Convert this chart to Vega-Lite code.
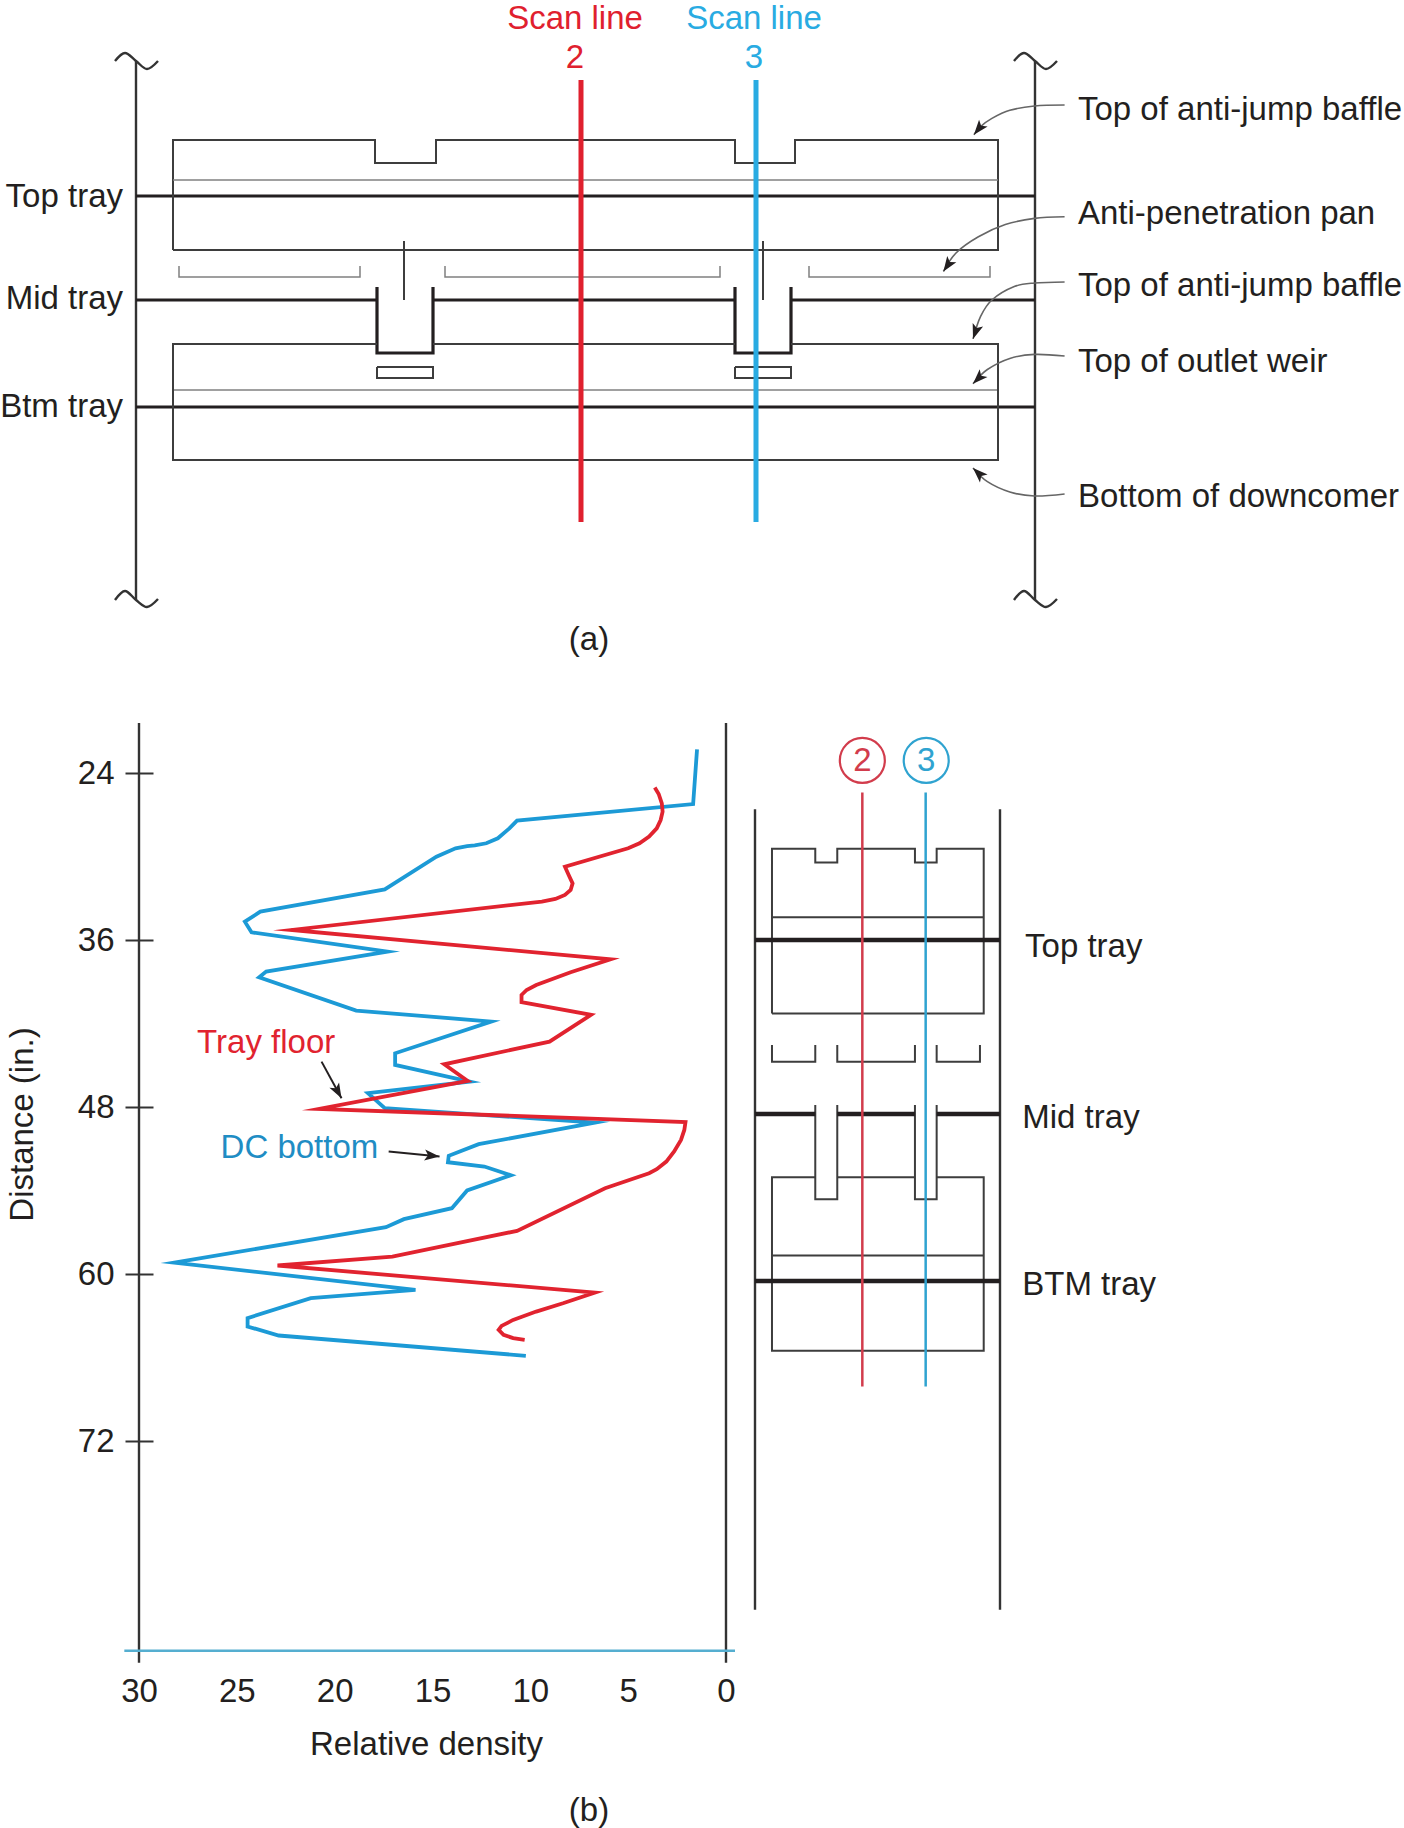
{"$schema":"https://vega.github.io/schema/vega-lite/v6.json","width":1404,"height":1828,"padding":0,"autosize":{"type":"none"},"background":"white","config":{"view":{"stroke":null},"text":{"font":"Liberation Sans","fontSize":33,"baseline":"alphabetic"},"axis":{"labelFont":"Liberation Sans","titleFont":"Liberation Sans","labelFontSize":33,"titleFontSize":33,"labelColor":"#231f20","titleColor":"#231f20","titleFontWeight":"normal"}},
"datasets":{
"upper":[
{"id":"lw","part":"wall","x":0,"y":-135,"o":1},{"id":"lw","part":"wall","x":0,"y":404,"o":2},
{"id":"rw","part":"wall","x":899,"y":-135,"o":1},{"id":"rw","part":"wall","x":899,"y":404,"o":2},
{"id":"t1","part":"tray","x":0,"y":0,"o":1},{"id":"t1","part":"tray","x":899,"y":0,"o":2},
{"id":"m1","part":"tray","x":0,"y":104,"o":1},{"id":"m1","part":"tray","x":241,"y":104,"o":2},
{"id":"m2","part":"tray","x":297,"y":104,"o":1},{"id":"m2","part":"tray","x":599,"y":104,"o":2},
{"id":"m3","part":"tray","x":655,"y":104,"o":1},{"id":"m3","part":"tray","x":899,"y":104,"o":2},
{"id":"b1","part":"tray","x":0,"y":211,"o":1},{"id":"b1","part":"tray","x":899,"y":211,"o":2},
{"id":"box1","part":"box","x":37,"y":54,"o":1},{"id":"box1","part":"box","x":37,"y":-56,"o":2},{"id":"box1","part":"box","x":239,"y":-56,"o":3},{"id":"box1","part":"box","x":239,"y":-33,"o":4},{"id":"box1","part":"box","x":300,"y":-33,"o":5},{"id":"box1","part":"box","x":300,"y":-56,"o":6},{"id":"box1","part":"box","x":599,"y":-56,"o":7},{"id":"box1","part":"box","x":599,"y":-33,"o":8},{"id":"box1","part":"box","x":659,"y":-33,"o":9},{"id":"box1","part":"box","x":659,"y":-56,"o":10},{"id":"box1","part":"box","x":862,"y":-56,"o":11},{"id":"box1","part":"box","x":862,"y":54,"o":12},{"id":"box1","part":"box","x":37,"y":54,"o":13},
{"id":"l1","part":"level","x":37,"y":-16,"o":1},{"id":"l1","part":"level","x":862,"y":-16,"o":2},
{"id":"l2","part":"level","x":37,"y":194,"o":1},{"id":"l2","part":"level","x":862,"y":194,"o":2},
{"id":"v1","part":"box","x":268,"y":45,"o":1},{"id":"v1","part":"box","x":268,"y":104,"o":2},
{"id":"v2","part":"box","x":627,"y":45,"o":1},{"id":"v2","part":"box","x":627,"y":104,"o":2},
{"id":"p1","part":"level","x":43,"y":70,"o":1},{"id":"p1","part":"level","x":43,"y":81,"o":2},{"id":"p1","part":"level","x":224,"y":81,"o":3},{"id":"p1","part":"level","x":224,"y":70,"o":4},
{"id":"p2","part":"level","x":309,"y":70,"o":1},{"id":"p2","part":"level","x":309,"y":81,"o":2},{"id":"p2","part":"level","x":584,"y":81,"o":3},{"id":"p2","part":"level","x":584,"y":70,"o":4},
{"id":"p3","part":"level","x":673,"y":70,"o":1},{"id":"p3","part":"level","x":673,"y":81,"o":2},{"id":"p3","part":"level","x":854,"y":81,"o":3},{"id":"p3","part":"level","x":854,"y":70,"o":4},
{"id":"d1","part":"tray","x":241,"y":91,"o":1},{"id":"d1","part":"tray","x":241,"y":157,"o":2},{"id":"d1","part":"tray","x":297,"y":157,"o":3},{"id":"d1","part":"tray","x":297,"y":91,"o":4},
{"id":"d2","part":"tray","x":599,"y":91,"o":1},{"id":"d2","part":"tray","x":599,"y":157,"o":2},{"id":"d2","part":"tray","x":655,"y":157,"o":3},{"id":"d2","part":"tray","x":655,"y":91,"o":4},
{"id":"box2","part":"box","x":241,"y":148,"o":1},{"id":"box2","part":"box","x":37,"y":148,"o":2},{"id":"box2","part":"box","x":37,"y":264,"o":3},{"id":"box2","part":"box","x":862,"y":264,"o":4},{"id":"box2","part":"box","x":862,"y":148,"o":5},{"id":"box2","part":"box","x":655,"y":148,"o":6},
{"id":"box3","part":"box","x":297,"y":148,"o":1},{"id":"box3","part":"box","x":599,"y":148,"o":2},
{"id":"r1","part":"box","x":241,"y":171,"o":1},{"id":"r1","part":"box","x":297,"y":171,"o":2},{"id":"r1","part":"box","x":297,"y":182,"o":3},{"id":"r1","part":"box","x":241,"y":182,"o":4},{"id":"r1","part":"box","x":241,"y":171,"o":5},
{"id":"r2","part":"box","x":599,"y":171,"o":1},{"id":"r2","part":"box","x":655,"y":171,"o":2},{"id":"r2","part":"box","x":655,"y":182,"o":3},{"id":"r2","part":"box","x":599,"y":182,"o":4},{"id":"r2","part":"box","x":599,"y":171,"o":5},
{"id":"s2","part":"scan 2 bold","x":445,"y":-116,"o":1},{"id":"s2","part":"scan 2 bold","x":445,"y":326,"o":2},
{"id":"s3","part":"scan 3 bold","x":620,"y":-116,"o":1},{"id":"s3","part":"scan 3 bold","x":620,"y":326,"o":2}
],
"upperCurves":[
{"id":"t1","part":"wall","x":-21,"y":-135,"o":1},{"id":"t1","part":"wall","x":-11,"y":-143,"o":2},{"id":"t1","part":"wall","x":0,"y":-135,"o":3},{"id":"t1","part":"wall","x":11,"y":-127,"o":4},{"id":"t1","part":"wall","x":22,"y":-135,"o":5},
{"id":"t2","part":"wall","x":-21,"y":404,"o":1},{"id":"t2","part":"wall","x":-11,"y":395,"o":2},{"id":"t2","part":"wall","x":0,"y":404,"o":3},{"id":"t2","part":"wall","x":11,"y":411,"o":4},{"id":"t2","part":"wall","x":22,"y":403,"o":5},
{"id":"t3","part":"wall","x":878,"y":-135,"o":1},{"id":"t3","part":"wall","x":888,"y":-143,"o":2},{"id":"t3","part":"wall","x":899,"y":-135,"o":3},{"id":"t3","part":"wall","x":910,"y":-127,"o":4},{"id":"t3","part":"wall","x":921,"y":-135,"o":5},
{"id":"t4","part":"wall","x":878,"y":404,"o":1},{"id":"t4","part":"wall","x":888,"y":395,"o":2},{"id":"t4","part":"wall","x":899,"y":404,"o":3},{"id":"t4","part":"wall","x":910,"y":411,"o":4},{"id":"t4","part":"wall","x":921,"y":403,"o":5},
{"id":"a1","part":"leader","x":928.6,"y":-91,"o":1},{"id":"a1","part":"leader","x":898.5,"y":-90,"o":2},{"id":"a1","part":"leader","x":873.8,"y":-85.7,"o":3},{"id":"a1","part":"leader","x":855.9,"y":-77.6,"o":4},{"id":"a1","part":"leader","x":844.6,"y":-69.4,"o":5},{"id":"a1","part":"leader","x":837.9,"y":-61.2,"o":6},
{"id":"a2","part":"leader","x":928.6,"y":20.8,"o":1},{"id":"a2","part":"leader","x":898.5,"y":22.4,"o":2},{"id":"a2","part":"leader","x":869.3,"y":28.6,"o":3},{"id":"a2","part":"leader","x":842.4,"y":40.8,"o":4},{"id":"a2","part":"leader","x":820,"y":57,"o":5},{"id":"a2","part":"leader","x":807.4,"y":75.5,"o":6},
{"id":"a3","part":"leader","x":928.6,"y":86,"o":1},{"id":"a3","part":"leader","x":898.5,"y":87,"o":2},{"id":"a3","part":"leader","x":878.3,"y":90.6,"o":3},{"id":"a3","part":"leader","x":855.9,"y":104,"o":4},{"id":"a3","part":"leader","x":844.6,"y":120.4,"o":5},{"id":"a3","part":"leader","x":837,"y":142.9,"o":6},
{"id":"a4","part":"leader","x":928.6,"y":160,"o":1},{"id":"a4","part":"leader","x":898.5,"y":158.4,"o":2},{"id":"a4","part":"leader","x":873.8,"y":162.4,"o":3},{"id":"a4","part":"leader","x":851.4,"y":173.5,"o":4},{"id":"a4","part":"leader","x":837,"y":187.8,"o":5},
{"id":"a5","part":"leader","x":928.6,"y":298,"o":1},{"id":"a5","part":"leader","x":898.5,"y":300,"o":2},{"id":"a5","part":"leader","x":873.8,"y":296,"o":3},{"id":"a5","part":"leader","x":851.4,"y":285.7,"o":4},{"id":"a5","part":"leader","x":837,"y":272,"o":5}
],
"upperHeads":[
{"x":837.9,"y":-61.2,"angle":219},{"x":807.4,"y":75.5,"angle":214},{"x":837,"y":142.9,"angle":199},{"x":837,"y":187.8,"angle":225},{"x":837,"y":272,"angle":314}
],
"upperText":[
{"t":"Scan line","x":439,"y":-167,"part":"scan 2 bold","a":"center"},{"t":"2","x":439,"y":-128,"part":"scan 2 bold","a":"center"},
{"t":"Scan line","x":618,"y":-167,"part":"scan 3 bold","a":"center"},{"t":"3","x":618,"y":-128,"part":"scan 3 bold","a":"center"},
{"t":"(a)","x":453,"y":454,"part":"ink","a":"center"},
{"t":"Top tray","x":-13,"y":11,"part":"ink","a":"right"},{"t":"Mid tray","x":-13,"y":113,"part":"ink","a":"right"},{"t":"Btm tray","x":-13,"y":221,"part":"ink","a":"right"},
{"t":"Top of anti-jump baffle","x":942,"y":-76,"part":"ink","a":"left"},{"t":"Anti-penetration pan","x":942,"y":28,"part":"ink","a":"left"},{"t":"Top of anti-jump baffle","x":942,"y":100,"part":"ink","a":"left"},{"t":"Top of outlet weir","x":942,"y":175.5,"part":"ink","a":"left"},{"t":"Bottom of downcomer","x":942,"y":310.6,"part":"ink","a":"left"}
],
"density":[
{"s":"DC bottom","v":1.48,"d":22.3},{"s":"DC bottom","v":1.68,"d":26.23},{"s":"DC bottom","v":10.68,"d":27.42},{"s":"DC bottom","v":11.07,"d":27.98},{"s":"DC bottom","v":11.66,"d":28.69},{"s":"DC bottom","v":12.25,"d":29.05},{"s":"DC bottom","v":12.84,"d":29.2},{"s":"DC bottom","v":13.23,"d":29.25},{"s":"DC bottom","v":13.82,"d":29.41},{"s":"DC bottom","v":14.8,"d":30.01},{"s":"DC bottom","v":17.44,"d":32.36},{"s":"DC bottom","v":23.8,"d":33.96},{"s":"DC bottom","v":24.59,"d":34.68},{"s":"DC bottom","v":24.25,"d":35.45},{"s":"DC bottom","v":17.3,"d":36.84},{"s":"DC bottom","v":23.5,"d":38.27},{"s":"DC bottom","v":23.86,"d":38.68},{"s":"DC bottom","v":18.9,"d":41.07},{"s":"DC bottom","v":12.0,"d":41.86},{"s":"DC bottom","v":16.91,"d":44.14},{"s":"DC bottom","v":16.91,"d":44.98},{"s":"DC bottom","v":13.1,"d":46.17},{"s":"DC bottom","v":18.3,"d":47.0},{"s":"DC bottom","v":17.44,"d":48.09},{"s":"DC bottom","v":6.7,"d":49.12},{"s":"DC bottom","v":12.64,"d":50.67},{"s":"DC bottom","v":14.17,"d":51.51},{"s":"DC bottom","v":14.21,"d":51.97},{"s":"DC bottom","v":12.35,"d":52.28},{"s":"DC bottom","v":11.0,"d":52.9},{"s":"DC bottom","v":13.23,"d":54.0},{"s":"DC bottom","v":14.01,"d":55.27},{"s":"DC bottom","v":16.46,"d":56.06},{"s":"DC bottom","v":17.38,"d":56.64},{"s":"DC bottom","v":28.2,"d":59.18},{"s":"DC bottom","v":15.87,"d":61.14},{"s":"DC bottom","v":21.22,"d":61.74},{"s":"DC bottom","v":24.45,"d":63.17},{"s":"DC bottom","v":24.45,"d":63.77},{"s":"DC bottom","v":22.86,"d":64.42},{"s":"DC bottom","v":10.23,"d":65.88},
{"s":"Tray floor","v":3.64,"d":25.05},{"s":"Tray floor","v":3.44,"d":25.51},{"s":"Tray floor","v":3.28,"d":26.18},{"s":"Tray floor","v":3.24,"d":26.78},{"s":"Tray floor","v":3.34,"d":27.38},{"s":"Tray floor","v":3.54,"d":27.98},{"s":"Tray floor","v":3.93,"d":28.57},{"s":"Tray floor","v":4.42,"d":29.05},{"s":"Tray floor","v":5.0,"d":29.41},{"s":"Tray floor","v":8.23,"d":30.73},{"s":"Tray floor","v":8.04,"d":31.33},{"s":"Tray floor","v":7.84,"d":31.93},{"s":"Tray floor","v":7.94,"d":32.41},{"s":"Tray floor","v":8.23,"d":32.76},{"s":"Tray floor","v":8.72,"d":33.05},{"s":"Tray floor","v":9.41,"d":33.24},{"s":"Tray floor","v":22.2,"d":35.28},{"s":"Tray floor","v":5.9,"d":37.39},{"s":"Tray floor","v":7.94,"d":38.32},{"s":"Tray floor","v":9.7,"d":39.23},{"s":"Tray floor","v":10.19,"d":39.59},{"s":"Tray floor","v":10.45,"d":39.95},{"s":"Tray floor","v":10.45,"d":40.47},{"s":"Tray floor","v":6.9,"d":41.38},{"s":"Tray floor","v":9.02,"d":43.3},{"s":"Tray floor","v":14.4,"d":44.93},{"s":"Tray floor","v":13.2,"d":46.13},{"s":"Tray floor","v":20.8,"d":48.14},{"s":"Tray floor","v":2.07,"d":49.08},{"s":"Tray floor","v":2.13,"d":49.65},{"s":"Tray floor","v":2.3,"d":50.36},{"s":"Tray floor","v":2.65,"d":51.2},{"s":"Tray floor","v":3.05,"d":51.92},{"s":"Tray floor","v":3.54,"d":52.47},{"s":"Tray floor","v":3.93,"d":52.76},{"s":"Tray floor","v":6.18,"d":53.84},{"s":"Tray floor","v":10.68,"d":56.9},{"s":"Tray floor","v":17.05,"d":58.75},{"s":"Tray floor","v":22.92,"d":59.39},{"s":"Tray floor","v":6.7,"d":61.33},{"s":"Tray floor","v":8.33,"d":62.1},{"s":"Tray floor","v":9.7,"d":62.7},{"s":"Tray floor","v":10.88,"d":63.3},{"s":"Tray floor","v":11.47,"d":63.73},{"s":"Tray floor","v":11.62,"d":64.01},{"s":"Tray floor","v":11.37,"d":64.37},{"s":"Tray floor","v":10.88,"d":64.61},{"s":"Tray floor","v":10.29,"d":64.73}
],
"plotFrame":[
{"id":"fl","part":"wall","v":30,"d":20.4,"o":1},{"id":"fl","part":"wall","v":30,"d":87.94,"o":2},
{"id":"fr","part":"wall","v":0,"d":20.4,"o":1},{"id":"fr","part":"wall","v":0,"d":87.94,"o":2},
{"id":"fb","part":"baseline","v":30.75,"d":87.07,"o":1},{"id":"fb","part":"baseline","v":-0.46,"d":87.07,"o":2},
{"id":"n1","part":"ink line","v":20.67,"d":44.74,"o":1},{"id":"n1","part":"ink line","v":19.65,"d":47.37,"o":2},
{"id":"n2","part":"ink line","v":17.24,"d":51.2,"o":1},{"id":"n2","part":"ink line","v":14.64,"d":51.56,"o":2}
],
"plotHeads":[{"v":19.65,"d":47.37,"angle":151},{"v":14.64,"d":51.56,"angle":96}],
"plotText":[
{"t":"Tray floor","v":23.5,"d":44.15,"part":"Tray floor"},{"t":"DC bottom","v":21.8,"d":51.66,"part":"dc text"},{"t":"(b)","v":7.0,"d":99.3,"part":"ink"}
],
"side":[
{"id":"lw","part":"wall","x":0,"y":26.61,"o":1},{"id":"lw","part":"wall","x":0,"y":84.13,"o":2},
{"id":"rw","part":"wall","x":17.6,"y":26.61,"o":1},{"id":"rw","part":"wall","x":17.6,"y":84.13,"o":2},
{"id":"box1","part":"box","x":1.22,"y":41.29,"o":1},{"id":"box1","part":"box","x":1.22,"y":29.44,"o":2},{"id":"box1","part":"box","x":4.33,"y":29.44,"o":3},{"id":"box1","part":"box","x":4.33,"y":30.44,"o":4},{"id":"box1","part":"box","x":5.91,"y":30.44,"o":5},{"id":"box1","part":"box","x":5.91,"y":29.44,"o":6},{"id":"box1","part":"box","x":11.49,"y":29.44,"o":7},{"id":"box1","part":"box","x":11.49,"y":30.44,"o":8},{"id":"box1","part":"box","x":13.05,"y":30.44,"o":9},{"id":"box1","part":"box","x":13.05,"y":29.44,"o":10},{"id":"box1","part":"box","x":16.43,"y":29.44,"o":11},{"id":"box1","part":"box","x":16.43,"y":41.29,"o":12},{"id":"box1","part":"box","x":1.22,"y":41.29,"o":13},
{"id":"l1","part":"box","x":1.22,"y":34.37,"o":1},{"id":"l1","part":"box","x":16.43,"y":34.37,"o":2},
{"id":"l2","part":"box","x":1.22,"y":58.67,"o":1},{"id":"l2","part":"box","x":16.43,"y":58.67,"o":2},
{"id":"p1","part":"box","x":1.22,"y":43.54,"o":1},{"id":"p1","part":"box","x":1.22,"y":44.74,"o":2},{"id":"p1","part":"box","x":4.33,"y":44.74,"o":3},{"id":"p1","part":"box","x":4.33,"y":43.54,"o":4},
{"id":"p2","part":"box","x":5.91,"y":43.54,"o":1},{"id":"p2","part":"box","x":5.91,"y":44.74,"o":2},{"id":"p2","part":"box","x":11.49,"y":44.74,"o":3},{"id":"p2","part":"box","x":11.49,"y":43.54,"o":4},
{"id":"p3","part":"box","x":13.05,"y":43.54,"o":1},{"id":"p3","part":"box","x":13.05,"y":44.74,"o":2},{"id":"p3","part":"box","x":16.16,"y":44.74,"o":3},{"id":"p3","part":"box","x":16.16,"y":43.54,"o":4},
{"id":"d1","part":"box","x":4.33,"y":47.85,"o":1},{"id":"d1","part":"box","x":4.33,"y":54.63,"o":2},{"id":"d1","part":"box","x":5.91,"y":54.63,"o":3},{"id":"d1","part":"box","x":5.91,"y":47.85,"o":4},
{"id":"d2","part":"box","x":11.49,"y":47.85,"o":1},{"id":"d2","part":"box","x":11.49,"y":54.63,"o":2},{"id":"d2","part":"box","x":13.05,"y":54.63,"o":3},{"id":"d2","part":"box","x":13.05,"y":47.85,"o":4},
{"id":"box2","part":"box","x":4.33,"y":53.05,"o":1},{"id":"box2","part":"box","x":1.22,"y":53.05,"o":2},{"id":"box2","part":"box","x":1.22,"y":65.52,"o":3},{"id":"box2","part":"box","x":16.43,"y":65.52,"o":4},{"id":"box2","part":"box","x":16.43,"y":53.05,"o":5},{"id":"box2","part":"box","x":13.05,"y":53.05,"o":6},
{"id":"box3","part":"box","x":5.91,"y":53.05,"o":1},{"id":"box3","part":"box","x":11.49,"y":53.05,"o":2},
{"id":"t1","part":"side tray","x":0,"y":36,"o":1},{"id":"t1","part":"side tray","x":17.6,"y":36,"o":2},
{"id":"m1","part":"side tray","x":0,"y":48.5,"o":1},{"id":"m1","part":"side tray","x":4.33,"y":48.5,"o":2},
{"id":"m2","part":"side tray","x":5.91,"y":48.5,"o":1},{"id":"m2","part":"side tray","x":11.49,"y":48.5,"o":2},
{"id":"m3","part":"side tray","x":13.05,"y":48.5,"o":1},{"id":"m3","part":"side tray","x":17.6,"y":48.5,"o":2},
{"id":"b1","part":"side tray","x":0,"y":60.5,"o":1},{"id":"b1","part":"side tray","x":17.6,"y":60.5,"o":2},
{"id":"s2","part":"scan 2","x":7.71,"y":25.41,"o":1},{"id":"s2","part":"scan 2","x":7.71,"y":68.09,"o":2},
{"id":"s3","part":"scan 3","x":12.26,"y":25.41,"o":1},{"id":"s3","part":"scan 3","x":12.26,"y":68.09,"o":2}
],
"sideMarks":[{"part":"scan 2","x":7.71,"y":23.1,"n":"2"},{"part":"scan 3","x":12.3,"y":23.1,"n":"3"}],
"sideText":[{"t":"Top tray","x":19.4,"y":37.2},{"t":"Mid tray","x":19.2,"y":49.5},{"t":"BTM tray","x":19.2,"y":61.5}]
},
"layer":[
{"layer":[
{"data":{"name":"upper"},"mark":{"type":"line","strokeJoin":"miter","strokeCap":"butt"},"encoding":{"x":{"field":"x","type":"quantitative","axis":null,"scale":{"domain":[0,899],"range":[136,1035],"nice":false,"zero":false}},"y":{"field":"y","type":"quantitative","axis":null,"scale":{"domain":[0,400],"range":[196,596],"nice":false,"zero":false}},"order":{"field":"o"},"detail":{"field":"id"},"color":{"field":"part","type":"nominal","legend":null,"scale":{"domain":["wall","tray","box","level","leader","baseline","ink line","side tray","scan 2 bold","scan 3 bold","scan 2","scan 3","DC bottom","Tray floor","ink","dc text"],"range":["#333333","#231f20","#3d3d3d","#808080","#666666","#55aed0","#231f20","#231f20","#e0202e","#29abe2","#d23c4c","#2fa3d0","#1c9ad6","#e1232f","#231f20","#1f8dc4"]}},"strokeWidth":{"field":"part","type":"nominal","legend":null,"scale":{"type":"ordinal","domain":["wall","tray","box","level","leader","baseline","ink line","side tray","scan 2 bold","scan 3 bold","scan 2","scan 3"],"range":[2.4,3.2,2,1.5,1.6,2.5,2,4.5,5,5,2.5,2.5]}}}},
{"data":{"name":"upperCurves"},"mark":{"type":"line","interpolate":"cardinal"},"encoding":{"x":{"field":"x","type":"quantitative"},"y":{"field":"y","type":"quantitative"},"order":{"field":"o"},"detail":{"field":"id"},"color":{"field":"part","type":"nominal","legend":null},"strokeWidth":{"field":"part","type":"nominal","legend":null,"scale":{"type":"ordinal","domain":["wall","tray","box","level","leader","baseline","ink line","side tray","scan 2 bold","scan 3 bold","scan 2","scan 3"],"range":[2.4,3.2,2,1.5,1.6,2.5,2,4.5,5,5,2.5,2.5]}}}},
{"data":{"name":"upperHeads"},"mark":{"type":"point","filled":true,"opacity":1,"color":"#231f20","shape":"M0,0 L0.55,1.5 L0,1.15 L-0.55,1.5 Z","size":400},"encoding":{"x":{"field":"x","type":"quantitative"},"y":{"field":"y","type":"quantitative"},"angle":{"field":"angle","type":"quantitative","scale":null}}},
{"data":{"name":"upperText"},"transform":[{"filter":"datum.a=='center'"}],"mark":{"type":"text","align":"center"},"encoding":{"x":{"field":"x","type":"quantitative"},"y":{"field":"y","type":"quantitative"},"text":{"field":"t"},"color":{"field":"part","type":"nominal","legend":null}}},
{"data":{"name":"upperText"},"transform":[{"filter":"datum.a=='right'"}],"mark":{"type":"text","align":"right"},"encoding":{"x":{"field":"x","type":"quantitative"},"y":{"field":"y","type":"quantitative"},"text":{"field":"t"},"color":{"field":"part","type":"nominal","legend":null}}},
{"data":{"name":"upperText"},"transform":[{"filter":"datum.a=='left'"}],"mark":{"type":"text","align":"left"},"encoding":{"x":{"field":"x","type":"quantitative"},"y":{"field":"y","type":"quantitative"},"text":{"field":"t"},"color":{"field":"part","type":"nominal","legend":null}}}
]},
{"layer":[
{"data":{"name":"plotFrame"},"mark":{"type":"line","strokeCap":"butt"},"encoding":{"x":{"field":"v","type":"quantitative","title":"Relative density","scale":{"domain":[30,0],"range":[139,726],"nice":false,"zero":false},"axis":{"orient":"bottom","values":[30,25,20,15,10,5,0],"offset":-177,"domain":false,"ticks":false,"labelPadding":50,"labelFlush":false,"labelOverlap":false,"labelBaseline":"alphabetic","titleX":426,"titleY":77,"titleAnchor":"middle","grid":false}},"y":{"field":"d","type":"quantitative","title":"Distance (in.)","scale":{"domain":[24,72],"range":[773,1441],"nice":false,"zero":false},"axis":{"orient":"left","values":[24,36,48,60,72],"offset":-153,"domain":false,"tickSize":28,"tickWidth":2,"tickColor":"#333333","labelPadding":11,"labelBaseline":"middle","labelFlush":false,"labelOverlap":false,"titleX":-114,"titleY":1124,"grid":false}},"order":{"field":"o"},"detail":{"field":"id"},"color":{"field":"part","type":"nominal","legend":null},"strokeWidth":{"field":"part","type":"nominal","legend":null,"scale":{"type":"ordinal","domain":["wall","tray","box","level","leader","baseline","ink line","side tray","scan 2 bold","scan 3 bold","scan 2","scan 3"],"range":[2.4,3.2,2,1.5,1.6,2.5,2,4.5,5,5,2.5,2.5]}}}},
{"data":{"name":"density"},"mark":{"type":"line","strokeJoin":"miter","strokeMiterLimit":10,"strokeWidth":3.8},"encoding":{"x":{"field":"v","type":"quantitative"},"y":{"field":"d","type":"quantitative"},"order":{"field":"d"},"detail":{"field":"s"},"color":{"field":"s","type":"nominal","legend":null}}},
{"data":{"name":"plotHeads"},"mark":{"type":"point","filled":true,"opacity":1,"color":"#231f20","shape":"M0,0 L0.55,1.5 L0,1.15 L-0.55,1.5 Z","size":400},"encoding":{"x":{"field":"v","type":"quantitative"},"y":{"field":"d","type":"quantitative"},"angle":{"field":"angle","type":"quantitative","scale":null}}},
{"data":{"name":"plotText"},"mark":{"type":"text","align":"center"},"encoding":{"x":{"field":"v","type":"quantitative"},"y":{"field":"d","type":"quantitative"},"text":{"field":"t"},"color":{"field":"part","type":"nominal","legend":null}}}
]},
{"layer":[
{"data":{"name":"side"},"mark":{"type":"line","strokeCap":"butt"},"encoding":{"x":{"field":"x","type":"quantitative","axis":null,"scale":{"domain":[0,17.6],"range":[755,1000],"nice":false,"zero":false}},"y":{"field":"y","type":"quantitative","axis":null,"scale":{"domain":[24,72],"range":[773,1441],"nice":false,"zero":false}},"order":{"field":"o"},"detail":{"field":"id"},"color":{"field":"part","type":"nominal","legend":null},"strokeWidth":{"field":"part","type":"nominal","legend":null,"scale":{"type":"ordinal","domain":["wall","tray","box","level","leader","baseline","ink line","side tray","scan 2 bold","scan 3 bold","scan 2","scan 3"],"range":[2.4,3.2,2,1.5,1.6,2.5,2,4.5,5,5,2.5,2.5]}}}},
{"data":{"name":"sideMarks"},"mark":{"type":"point","filled":false,"size":2025,"strokeWidth":2.2,"opacity":1},"encoding":{"x":{"field":"x","type":"quantitative"},"y":{"field":"y","type":"quantitative"},"color":{"field":"part","type":"nominal","legend":null},"shape":{"value":"circle"}}},
{"data":{"name":"sideMarks"},"mark":{"type":"text","align":"center","dy":11},"encoding":{"x":{"field":"x","type":"quantitative"},"y":{"field":"y","type":"quantitative"},"text":{"field":"n"},"color":{"field":"part","type":"nominal","legend":null}}},
{"data":{"name":"sideText"},"mark":{"type":"text","align":"left","color":"#231f20"},"encoding":{"x":{"field":"x","type":"quantitative"},"y":{"field":"y","type":"quantitative"},"text":{"field":"t"}}}
]}
],
"resolve":{"scale":{"x":"independent","y":"independent","color":"shared","strokeWidth":"shared"}}
}
